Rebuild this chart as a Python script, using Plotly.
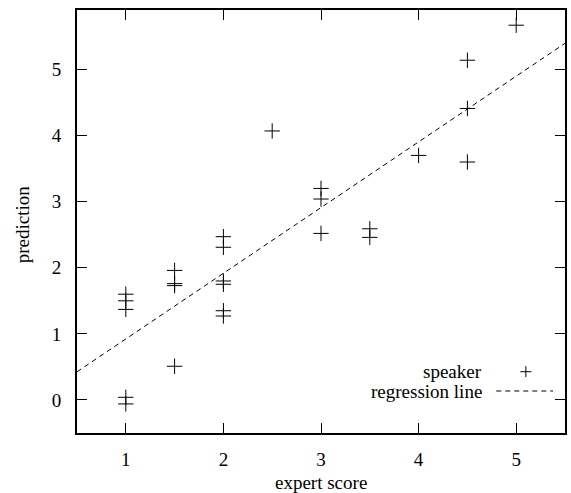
import numpy as np
import plotly.graph_objects as go

# expert score (x) and predicted score (y) per speaker
expert_score = [1, 1, 1, 1, 1,
                1.5, 1.5, 1.5, 1.5,
                2, 2, 2, 2, 2, 2,
                2.5,
                3, 3, 3,
                3.5, 3.5,
                4,
                4.5, 4.5, 4.5,
                5]
prediction = [1.60, 1.50, 1.37, 0.04, -0.06,
              1.96, 1.76, 1.73, 0.51,
              2.47, 2.31, 1.80, 1.75, 1.35, 1.27,
              4.07,
              3.20, 3.04, 2.52,
              2.59, 2.46,
              3.70,
              5.14, 4.41, 3.60,
              5.67]

x_range = [0.5, 5.5]
y_range = [-0.5, 5.9]
x_ticks = [1, 2, 3, 4, 5]
y_ticks = [0, 1, 2, 3, 4, 5]

slope, intercept = np.polyfit(expert_score, prediction, 1)
line_x = np.array(x_range)
line_y = slope * line_x + intercept

FONT = "Liberation Serif"
FS = 19
TF = dict(family=FONT, size=FS, color="black")

fig = go.Figure()
fig.add_trace(go.Scatter(
    x=line_x, y=line_y, mode="lines",
    line=dict(color="black", width=1, dash="5px,4px"),
    showlegend=False, hoverinfo="skip"))
fig.add_trace(go.Scatter(
    x=expert_score, y=prediction, mode="markers",
    marker=dict(symbol="cross-thin-open", size=11, color="black",
                line=dict(color="black", width=1)),
    showlegend=False))

L, R, T, B = 77, 4, 10, 60
W, H = 571, 493
fig.update_layout(
    width=W, height=H,
    margin=dict(l=L, r=R, t=T, b=B),
    paper_bgcolor="white", plot_bgcolor="white",
    font=TF,
    xaxis=dict(range=x_range, tickvals=x_ticks, ticks="inside", ticklen=10,
               tickwidth=1.3, tickcolor="black", showline=True, linecolor="black",
               linewidth=1.8, mirror="allticks", showgrid=False, zeroline=False,
               ticklabelstandoff=8, tickfont=TF),
    yaxis=dict(range=y_range, tickvals=y_ticks, ticks="inside", ticklen=10,
               tickwidth=1.3, tickcolor="black", showline=True, linecolor="black",
               linewidth=1.8, mirror="allticks", showgrid=False, zeroline=False,
               ticklabelstandoff=10, tickfont=TF),
)

pw, ph = W - L - R, H - T - B
def px(xp): return (xp - L) / pw
def py(yp): return (H - B - yp) / ph

# axis titles
fig.add_annotation(x=px(322), y=py(482), xref="paper", yref="paper", text="expert score",
                   showarrow=False, xanchor="center", yanchor="middle", font=TF)
fig.add_annotation(x=px(22), y=py(224), xref="paper", yref="paper", text="prediction",
                   showarrow=False, xanchor="center", yanchor="middle", textangle=-90, font=TF)

# gnuplot-style key (text right-aligned, sample on the right)
fig.add_annotation(x=px(486), y=py(371.7), xref="paper", yref="paper", text="speaker",
                   showarrow=False, xanchor="right", yanchor="middle", font=TF)
fig.add_annotation(x=px(486), y=py(391), xref="paper", yref="paper", text="regression line",
                   showarrow=False, xanchor="right", yanchor="middle", font=TF)
fig.add_shape(type="line", xref="paper", yref="paper",
              x0=px(522.2), x1=px(533.2), y0=py(371.7), y1=py(371.7),
              line=dict(color="black", width=1))
fig.add_shape(type="line", xref="paper", yref="paper",
              x0=px(527.7), x1=px(527.7), y0=py(366.2), y1=py(377.2),
              line=dict(color="black", width=1))
fig.add_shape(type="line", xref="paper", yref="paper",
              x0=px(498), x1=px(555), y0=py(391), y1=py(391),
              line=dict(color="black", width=1, dash="5px,4px"))

fig.write_html("out.html", config={"displayModeBar": False},
               post_script="document.body.style.margin='0';document.body.style.padding='0';")
